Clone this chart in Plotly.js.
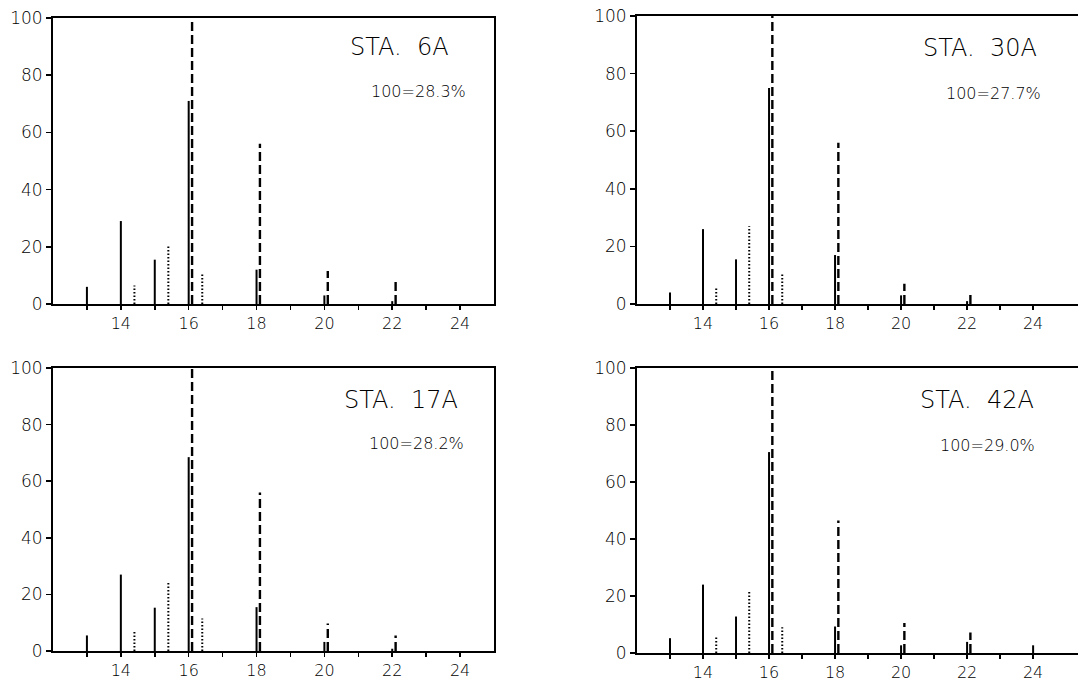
<!DOCTYPE html>
<html>
<head>
<meta charset="utf-8">
<script src="https://cdn.plot.ly/plotly-3.0.1.min.js"></script>
<style>html,body{margin:0;padding:0;background:#fff;}#chart{width:1078px;height:682px;}</style>
</head>
<body>
<div id="chart"></div>
<script>
// Carbon-number positions of each kind of peak
const solidX  = [13, 14, 15, 16, 18, 20, 22, 24];
const dottedX = [14.4, 15.4, 16.4];
const dashedX = [16.1, 18.1, 20.1, 22.1];

// Station labels and scale notes
const stations = ["STA.\u00a0\u00a06A", "STA.\u00a0\u00a030A", "STA.\u00a0\u00a017A", "STA.\u00a0\u00a042A"];
const scaleNotes = ["100=28.3%", "100=27.7%", "100=28.2%", "100=29.0%"];

// Relative values (100 = largest peak)
const solid6A   = [6, 29, 15.5, 71, 12, 3, 1, 0];
const dotted6A  = [6.5, 20.5, 11];
const dashed6A  = [100, 56, 11.5, 8];

const solid30A  = [4, 26, 15.5, 75, 17, 3, 1, 0];
const dotted30A = [6, 27, 10.5];
const dashed30A = [100, 56, 7, 4];

const solid17A  = [5.5, 27, 15.3, 68.5, 15.5, 3.2, 0.8, 0];
const dotted17A = [7, 24.5, 11.5];
const dashed17A = [100, 56, 9.7, 5.5];

const solid42A  = [5.2, 24, 12.8, 70.5, 9.3, 2.7, 3.9, 2.7];
const dotted42A = [5.5, 21.8, 9];
const dashed42A = [100, 46.5, 10.5, 7.2];

// Axis ticks
const xTickVals = [13, 14, 15, 16, 17, 18, 19, 20, 21, 22, 23, 24];
const xTickText = ["", "14", "", "16", "", "18", "", "20", "", "22", "", "24"];
const yTickVals = [0, 20, 40, 60, 80, 100];
const yTickText = ["0", "20", "40", "60", "80", "100"];

const panels = [
  {solid: solid6A,  dotted: dotted6A,  dashed: dashed6A},
  {solid: solid30A, dotted: dotted30A, dashed: dashed30A},
  {solid: solid17A, dotted: dotted17A, dashed: dashed17A},
  {solid: solid42A, dotted: dotted42A, dashed: dashed42A}
];

function stems(xs, vs) {
  const x = [], y = [];
  xs.forEach((xv, i) => {
    if (vs[i] > 0) { x.push(xv, xv, null); y.push(0, vs[i], null); }
  });
  return {x, y};
}

const traces = [];
panels.forEach((p, k) => {
  const ax = k === 0 ? '' : String(k + 1);
  const s = stems(solidX, p.solid);
  const d = stems(dottedX, p.dotted);
  const h = stems(dashedX, p.dashed);
  traces.push({x: s.x, y: s.y, type: 'scatter', mode: 'lines', xaxis: 'x' + ax, yaxis: 'y' + ax,
    line: {color: '#000', width: 2}, hoverinfo: 'skip', showlegend: false});
  traces.push({x: d.x, y: d.y, type: 'scatter', mode: 'lines', xaxis: 'x' + ax, yaxis: 'y' + ax,
    line: {color: '#000', width: 2, dash: '1.5px,2px'}, hoverinfo: 'skip', showlegend: false});
  traces.push({x: h.x, y: h.y, type: 'scatter', mode: 'lines', xaxis: 'x' + ax, yaxis: 'y' + ax,
    line: {color: '#000', width: 2.4, dash: '9px,4px'}, hoverinfo: 'skip', showlegend: false});
});

const W = 1078, H = 682;
const font = {family: 'DejaVu Sans', size: 16, color: '#000', weight: 200};
function xa(dom, range, anchor) {
  return {domain: dom, range: range, anchor: anchor, showgrid: false, zeroline: false,
    showline: true, linecolor: '#000', linewidth: 2, mirror: true,
    ticks: 'outside', ticklen: 4, tickwidth: 1.5, tickcolor: '#000',
    tickmode: 'array', tickvals: xTickVals, ticktext: xTickText, tickfont: font, fixedrange: true};
}
function ya(dom, anchor, mirror) {
  return {domain: dom, range: [0, 100], anchor: anchor, showgrid: false, zeroline: false,
    showline: true, linecolor: '#000', linewidth: 2, mirror: mirror,
    ticks: 'outside', ticklen: 5, tickwidth: 1.5, tickcolor: '#000',
    tickmode: 'array', tickvals: yTickVals, ticktext: yTickText,
    tickfont: {family: 'DejaVu Sans', size: 17, color: '#000', weight: 200}, fixedrange: true};
}
const leftDom = [53 / W, 494 / W];
const rightDom = [637 / W, 1];
const topDomL = [1 - 304 / H, 1 - 18 / H];
const topDomR = [1 - 304 / H, 1 - 16 / H];
const botDomL = [1 - 651 / H, 1 - 368 / H];
const botDomR = [1 - 653 / H, 1 - 368 / H];

const titlePos = [[399, 47], [980, 48], [401, 400], [977, 400]];
const notePos  = [[418, 91], [993, 93], [416, 443], [987, 445]];
const annotations = [];
stations.forEach((t, k) => {
  annotations.push({text: t, xref: 'paper', yref: 'paper', x: titlePos[k][0] / W, y: 1 - titlePos[k][1] / H,
    xanchor: 'center', yanchor: 'middle', showarrow: false,
    font: {family: 'DejaVu Sans', size: 24, color: '#000', weight: 200}});
  annotations.push({text: scaleNotes[k], xref: 'paper', yref: 'paper', x: notePos[k][0] / W, y: 1 - notePos[k][1] / H,
    xanchor: 'center', yanchor: 'middle', showarrow: false,
    font: {family: 'DejaVu Sans', size: 16, color: '#000', weight: 200}});
});

const layout = {
  width: W, height: H, margin: {l: 0, r: 0, t: 0, b: 0},
  paper_bgcolor: '#fff', plot_bgcolor: '#fff', showlegend: false,
  xaxis:  xa(leftDom, [12, 25], 'y'),
  yaxis:  ya(topDomL, 'x', true),
  xaxis2: xa(rightDom, [12, 25.36], 'y2'),
  yaxis2: ya(topDomR, 'x2', false),
  xaxis3: xa(leftDom, [12, 25], 'y3'),
  yaxis3: ya(botDomL, 'x3', true),
  xaxis4: xa(rightDom, [12, 25.36], 'y4'),
  yaxis4: ya(botDomR, 'x4', false),
  annotations: annotations
};

Plotly.newPlot('chart', traces, layout, {staticPlot: true, displayModeBar: false});
</script>
</body>
</html>
